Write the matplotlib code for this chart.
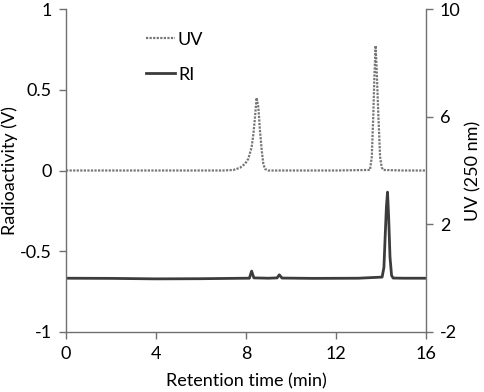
import matplotlib
matplotlib.use("Agg")
import matplotlib.pyplot as plt
from matplotlib.lines import Line2D

plt.rcParams['font.family'] = ['Lato', 'DejaVu Sans']
plt.rcParams['axes.unicode_minus'] = False

# UV trace (right axis, UV 250 nm)
uv_time = [0, 2, 4, 6, 7.0, 7.44, 7.73, 7.96, 8.10, 8.25, 8.33, 8.40, 8.47,
           8.55, 8.62, 8.70, 8.77, 8.84, 8.99, 10, 12, 13.51, 13.59, 13.66,
           13.70, 13.76, 13.81, 13.88, 13.96, 14.03, 14.10, 15, 16]
uv_val = [4.0, 4.0, 4.0, 4.0, 4.0, 4.02, 4.10, 4.25, 4.43, 4.86, 5.36, 5.98, 6.70,
          6.35, 5.49, 4.74, 4.25, 4.06, 4.0, 4.0, 4.0, 4.02, 4.5, 6.1,
          7.34, 8.64, 7.71, 6.1, 4.5, 4.12, 4.02, 4.0, 4.0]

# RI trace (left axis, radioactivity V)
ri_time = [0, 2, 4, 6, 8.0, 8.15, 8.25, 8.35, 9.0, 9.38, 9.48, 9.60, 11, 13,
           14.05, 14.13, 14.19, 14.24, 14.29, 14.34, 14.40, 14.47, 14.54, 15, 16]
ri_val = [-0.667, -0.668, -0.671, -0.670, -0.667, -0.667, -0.623, -0.665, -0.667,
          -0.665, -0.646, -0.666, -0.668, -0.667,
          -0.660, -0.600, -0.392, -0.227, -0.134, -0.289, -0.536, -0.650, -0.666,
          -0.667, -0.667]

left_ticks = [-1, -0.5, 0, 0.5, 1]
left_labels = ['-1', '-0.5', '0', '0.5', '1']
right_ticks = [-2, 2, 6, 10]
right_labels = ['-2', '2', '6', '10']
x_ticks = [0, 4, 8, 12, 16]

fig = plt.figure(figsize=(4.84, 3.92), dpi=100)
ax = fig.add_axes([66/484, 1-332/392, 360/484, 323/392])
ax2 = ax.twinx()

spine_col = '#707070'
uv_style = (0, (1.0, 0.6))
ri_line, = ax.plot(ri_time, ri_val, color='#3c3c3c', lw=2.0, solid_joinstyle='round')
uv_line, = ax2.plot(uv_time, uv_val, color='#767676', lw=1.6, linestyle=uv_style)

ax.set_xlim(0, 16)
ax.set_ylim(-1, 1)
ax2.set_ylim(-2, 10)
ax.set_xticks(x_ticks)
ax.set_xticklabels([str(t) for t in x_ticks])
ax.set_yticks(left_ticks)
ax.set_yticklabels(left_labels)
ax2.set_yticks(right_ticks)
ax2.set_yticklabels(right_labels)

for a in (ax, ax2):
    a.spines['top'].set_visible(False)
    for s in a.spines.values():
        s.set_color(spine_col)
        s.set_linewidth(1.0)
    a.tick_params(colors='black', labelsize=13, length=5, width=1.0, color=spine_col, pad=5)
ax.spines['right'].set_visible(False)
ax2.spines['left'].set_visible(False)
ax2.spines['bottom'].set_visible(False)

ax.set_xlabel('Retention time (min)', fontsize=13)
ax.set_ylabel('Radioactivity (V)', fontsize=13)
ax2.set_ylabel('UV (250 nm)', fontsize=13)
ax.xaxis.set_label_coords(0.5, -0.127)
ax.yaxis.set_label_coords(-0.133, 0.5)
ax2.yaxis.set_label_coords(1.108, 0.5)

handles = [Line2D([0], [0], color='#767676', lw=1.6, linestyle=uv_style),
           Line2D([0], [0], color='#3c3c3c', lw=2.0)]
ax.legend(handles, ['UV', 'RI'], loc='upper left', bbox_to_anchor=(0.178, 0.98),
          frameon=False, fontsize=13, handlelength=1.6, handletextpad=0.15,
          labelspacing=1.05)

fig.savefig('out.png', dpi=100)
